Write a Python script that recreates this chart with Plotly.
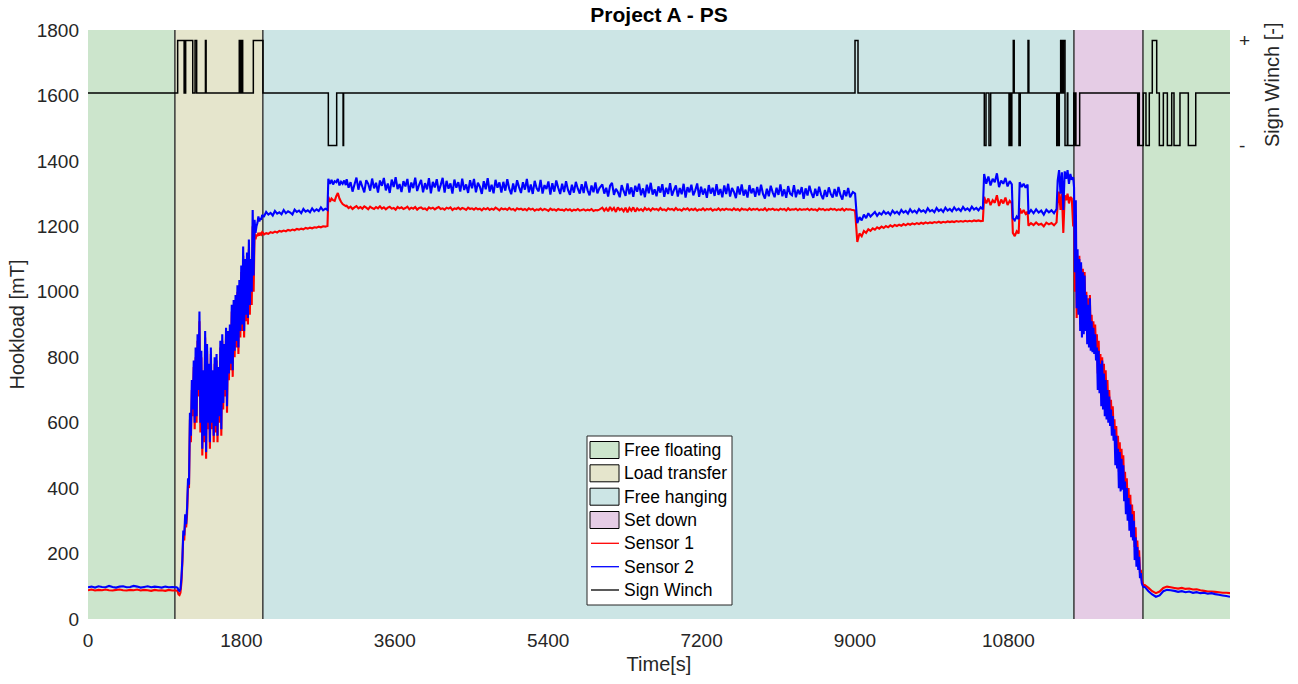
import numpy as np
import plotly.graph_objects as go

# ---------------- data ----------------
phase_names = ["Free floating", "Load transfer", "Free hanging", "Set down", "Free floating"]
phase_start = [-500, 1021, 2053, 11570, 12380]
phase_end = [1021, 2053, 11570, 12380, 14000]
phase_colors = ["rgb(204,229,204)", "rgb(229,229,204)", "rgb(204,229,229)", "rgb(229,204,229)", "rgb(204,229,204)"]

x_ticks = [0, 1800, 3600, 5400, 7200, 9000, 10800]
x_tick_text = ["0", "1800", "3600", "5400", "7200", "9000", "10800"]
y_ticks = [0, 200, 400, 600, 800, 1000, 1200, 1400, 1600, 1800]

# sensor segments: (start s, end s); values sampled evenly over each segment
seg_bounds = [(0, 1030), (1040, 2055), (2065, 2810), (2820, 3025), (3035, 6000),
              (6035, 8965), (8975, 10500), (10515, 10840), (10852, 10920),
              (10932, 11025), (11035, 11365), (11378, 11560), (11570, 12385), (12400, 13400)]

s2_float1 = [97, 99, 96, 100, 98, 97, 101, 98, 96, 99, 100, 97, 98, 101, 99, 96, 98, 100, 97, 99, 98, 96, 99, 97, 98, 97]
s1_float1 = [88, 90, 87, 89, 88, 90, 88, 87, 89, 90, 88, 87, 89, 88, 90, 87, 89, 88, 86, 89, 87, 88, 86, 89, 87, 87]

s2_transfer = [97, 95, 88, 86, 92, 125, 180, 270, 255, 320, 290, 340, 430, 410, 630, 560, 730, 640, 790, 600,
               830, 620, 870, 700, 940, 600, 820, 520, 760, 560, 880, 510, 840, 600, 780, 540, 830,
               600, 760, 560, 800, 590, 810, 560, 770, 620, 850, 580, 870, 660, 840, 700, 890, 650, 880,
               750, 900, 780, 960, 760, 975, 820, 990, 850, 1020, 830, 1036, 880, 1080, 900, 1138, 880, 1100,
               930, 1120, 920, 1160, 960, 1100, 1000, 1250, 1050, 1220, 1180, 1200,
               1210, 1230, 1215, 1225, 1220, 1235, 1230]
s1_transfer = [87, 85, 75, 73, 80, 110, 170, 255, 240, 300, 280, 320, 410, 400, 610, 540, 700, 620, 770, 580,
               800, 600, 850, 680, 910, 570, 800, 500, 740, 540, 860, 490, 820, 580, 760, 520, 810,
               580, 740, 540, 780, 570, 790, 540, 750, 600, 830, 560, 850, 640, 820, 680, 870, 630, 860,
               730, 880, 760, 940, 740, 950, 800, 970, 830, 1000, 810, 1010, 860, 1060, 880, 1110, 860, 1080,
               910, 1100, 900, 1130, 930, 1080, 960, 1200, 1000, 1180, 1160, 1175,
               1170, 1180, 1172, 1178, 1175, 1182, 1180]

s2_hang_a = [1230, 1244, 1236, 1241, 1233, 1247, 1239, 1243, 1237, 1250, 1240, 1246, 1242, 1236, 1251,
             1244, 1248, 1240, 1253, 1245, 1249, 1243, 1255, 1246, 1252, 1247, 1258, 1249, 1254, 1250]
s1_hang_a = [1175, 1179, 1177, 1182, 1180, 1184, 1181, 1186, 1184, 1187, 1185, 1189, 1187, 1190, 1188,
             1192, 1190, 1193, 1191, 1195, 1193, 1196, 1194, 1197, 1196, 1199, 1197, 1200, 1199, 1201]

s2_hang_b = [1345, 1330, 1342, 1328, 1338, 1335, 1345, 1325, 1336, 1330, 1340, 1326]
s1_hang_b = [1290, 1275, 1285, 1280, 1278, 1292, 1302, 1285, 1275, 1268, 1265, 1262]

s2_hang_c = [1344, 1318, 1335, 1306, 1328, 1349, 1312, 1339, 1321, 1304,
             1341, 1330, 1309, 1346, 1316, 1333, 1303, 1340, 1324, 1348,
             1310, 1331, 1302, 1343, 1320, 1350, 1314, 1329, 1305, 1338,
             1322, 1345, 1303, 1334, 1317, 1349, 1308, 1327, 1342, 1304,
             1332, 1313, 1347, 1301, 1336, 1319, 1344, 1307, 1326, 1348,
             1303, 1339, 1315, 1331, 1300, 1343, 1318, 1335, 1306, 1346,
             1311, 1328, 1302, 1341, 1316, 1345, 1304, 1333, 1321, 1299,
             1338, 1313, 1347, 1306, 1327, 1301, 1342, 1318, 1334, 1303,
             1336, 1309, 1344, 1315, 1298, 1331, 1305, 1341, 1320, 1302,
             1335, 1312, 1345, 1304, 1328, 1299, 1339, 1316, 1307, 1342,
             1300, 1326, 1314, 1337, 1297, 1332, 1306, 1340, 1318, 1299,
             1330, 1305, 1338, 1311, 1296, 1327, 1303, 1336, 1315, 1300,
             1329, 1302, 1337, 1310, 1295, 1325, 1304, 1334, 1301, 1316]
s1_hang_c = [1263, 1256, 1260, 1253, 1258, 1262, 1255, 1259, 1254, 1261,
             1257, 1252, 1260, 1256, 1253, 1259, 1255, 1261, 1254, 1258,
             1252, 1257, 1260, 1254, 1256, 1251, 1259, 1255, 1258, 1253,
             1256, 1260, 1252, 1257, 1254, 1259, 1251, 1256, 1258, 1253,
             1255, 1250, 1258, 1254, 1257, 1252, 1256, 1259, 1253, 1255,
             1251, 1257, 1254, 1258, 1250, 1255, 1253, 1257, 1252, 1256,
             1254, 1250, 1257, 1253, 1255, 1251, 1256, 1252, 1254, 1249,
             1255, 1252, 1256, 1250, 1254, 1251, 1257, 1253, 1249, 1255,
             1252, 1254, 1250, 1256, 1251, 1253, 1248, 1255, 1252, 1254,
             1250, 1253, 1249, 1255, 1251, 1254, 1248, 1252, 1250, 1254,
             1249, 1253, 1251, 1247, 1254, 1250, 1252, 1248, 1253, 1250,
             1251, 1248, 1253, 1249, 1252, 1247, 1251, 1249, 1253, 1248,
             1250, 1252, 1248, 1251, 1249, 1253, 1247, 1250, 1249, 1251]

s2_hang_d = [1328, 1300, 1318, 1291, 1324, 1333, 1296, 1315, 1305, 1289,
             1326, 1308, 1293, 1331, 1298, 1319, 1290, 1324, 1306, 1330,
             1295, 1316, 1289, 1327, 1301, 1333, 1297, 1313, 1292, 1322,
             1303, 1329, 1290, 1318, 1299, 1332, 1294, 1311, 1325, 1291,
             1317, 1298, 1330, 1288, 1320, 1304, 1327, 1295, 1310, 1331,
             1290, 1321, 1297, 1315, 1287, 1326, 1300, 1318, 1293, 1329,
             1296, 1314, 1289, 1325, 1299, 1330, 1291, 1317, 1305, 1286,
             1322, 1297, 1328, 1294, 1312, 1288, 1326, 1301, 1316, 1290,
             1320, 1295, 1327, 1299, 1285, 1315, 1292, 1324, 1304, 1289,
             1318, 1296, 1328, 1292, 1313, 1287, 1323, 1300, 1295, 1326,
             1289, 1312, 1298, 1320, 1284, 1316, 1294, 1324, 1302, 1287,
             1315, 1293, 1321, 1297, 1283, 1311, 1290, 1319, 1299, 1288,
             1314, 1291, 1320, 1296, 1282, 1310, 1292, 1317, 1289, 1300]
s1_hang_d = [1257, 1248, 1255, 1246, 1259, 1249, 1256, 1244, 1258, 1250,
             1254, 1246, 1257, 1243, 1256, 1248, 1258, 1245, 1255, 1249,
             1253, 1247, 1256, 1250, 1254, 1248, 1255, 1251, 1253, 1249,
             1256, 1250, 1252, 1248, 1255, 1251, 1253, 1249, 1256, 1250,
             1252, 1248, 1254, 1251, 1255, 1249, 1253, 1250, 1254, 1248,
             1252, 1250, 1255, 1249, 1253, 1251, 1254, 1248, 1252, 1250,
             1255, 1249, 1253, 1250, 1254, 1251, 1252, 1249, 1255, 1250,
             1253, 1248, 1254, 1251, 1252, 1249, 1255, 1250, 1253, 1251,
             1254, 1249, 1252, 1250, 1255, 1248, 1253, 1251, 1254, 1250,
             1252, 1249, 1254, 1251, 1253, 1248, 1255, 1250, 1252, 1251,
             1254, 1249, 1253, 1250, 1252, 1251, 1254, 1249, 1253, 1250,
             1252, 1248, 1254, 1251, 1253, 1249, 1252, 1250, 1254, 1251,
             1253, 1249, 1252, 1250, 1254, 1248, 1253, 1251, 1252, 1250]

s2_hang_e = [1305, 1300, 1210, 1228, 1218, 1236, 1225, 1240, 1230, 1237,
             1244, 1232, 1241, 1236, 1246, 1238, 1243, 1235, 1248, 1240,
             1245, 1237, 1250, 1242, 1247, 1239, 1252, 1243, 1248, 1241,
             1253, 1245, 1249, 1242, 1255, 1246, 1250, 1243, 1256, 1247,
             1252, 1244, 1257, 1248, 1253, 1246, 1258, 1249, 1254, 1247,
             1259, 1250, 1255, 1248, 1260, 1251, 1256, 1249, 1258, 1252]
s1_hang_e = [1250, 1248, 1152, 1178, 1170, 1186, 1180, 1191, 1186, 1194,
             1190, 1197, 1193, 1199, 1195, 1201, 1197, 1203, 1199, 1204,
             1201, 1205, 1202, 1207, 1203, 1208, 1205, 1209, 1206, 1210,
             1207, 1211, 1208, 1212, 1209, 1212, 1210, 1213, 1211, 1214,
             1211, 1214, 1212, 1215, 1213, 1215, 1213, 1216, 1214, 1216,
             1214, 1217, 1215, 1217, 1215, 1218, 1216, 1218, 1216, 1217]

s2_hang_f = [1360, 1330, 1352, 1325, 1345, 1335, 1362, 1320, 1340, 1330, 1348, 1322, 1338, 1328]
s1_hang_f = [1290, 1270, 1285, 1265, 1280, 1272, 1295, 1262, 1282, 1270, 1288, 1265, 1278, 1270]

s2_hang_g = [1225, 1218, 1230, 1222]
s1_hang_g = [1180, 1170, 1185, 1178]

s2_hang_h = [1335, 1320, 1330, 1318, 1328]
s1_hang_h = [1255, 1240, 1250, 1238, 1245]

s2_hang_i = [1238, 1250, 1240, 1252, 1242, 1248, 1236, 1251, 1243, 1249, 1240, 1253]
s1_hang_i = [1202, 1210, 1204, 1212, 1205, 1208, 1200, 1211, 1206, 1210, 1203, 1212]

s2_hang_j = [1340, 1372, 1300, 1365, 1250, 1368, 1345, 1372, 1330, 1360, 1342, 1350]
s1_hang_j = [1270, 1306, 1250, 1300, 1180, 1295, 1280, 1300, 1270, 1290, 1285, 1200]

s2_setdown = [1320, 1060, 1280, 950, 1130, 930, 1100, 880, 1090, 860, 1060, 870,
              1050, 880, 990, 840, 960, 830, 980, 820, 910, 815, 890,
              810, 870, 790, 830, 700, 820, 690, 780, 650, 790,
              640, 750, 620, 730, 610, 700, 600, 680, 590, 640,
              560, 620, 545, 580, 470, 560, 460, 520, 400, 510,
              390, 490, 395, 470, 360, 420, 320, 400, 300, 370,
              270, 350, 250, 320, 240, 300, 180, 250, 160, 220,
              150, 190, 125, 140, 110, 102, 98]
s1_setdown = [1270, 1000, 1180, 920, 1090, 940, 1110, 900, 1080, 890, 1070, 900,
              1060, 900, 1000, 870, 980, 860, 990, 850, 930, 850, 910,
              840, 900, 820, 870, 750, 850, 730, 810, 700, 800,
              690, 780, 660, 760, 650, 730, 640, 700, 620, 670,
              600, 650, 580, 610, 520, 590, 500, 560, 450, 540,
              430, 520, 440, 500, 400, 450, 360, 430, 340, 400,
              310, 380, 290, 350, 270, 330, 220, 280, 190, 240,
              175, 210, 140, 150, 120, 110, 104]

s2_float2 = [98, 85, 75, 68, 72, 85, 89, 88, 86, 83, 85, 82, 84, 80, 82, 79, 80, 77, 79, 76, 74, 72, 70, 68]
s1_float2 = [104, 95, 85, 79, 84, 95, 99, 97, 95, 93, 95, 92, 93, 90, 91, 88, 86, 84, 84, 83, 82, 80, 80, 79]

sensor1_segments = [s1_float1, s1_transfer, s1_hang_a, s1_hang_b, s1_hang_c, s1_hang_d, s1_hang_e,
                    s1_hang_f, s1_hang_g, s1_hang_h, s1_hang_i, s1_hang_j, s1_setdown, s1_float2]
sensor2_segments = [s2_float1, s2_transfer, s2_hang_a, s2_hang_b, s2_hang_c, s2_hang_d, s2_hang_e,
                    s2_hang_f, s2_hang_g, s2_hang_h, s2_hang_i, s2_hang_j, s2_setdown, s2_float2]

# winch sign: change times (s) and level (+1 / 0 / -1)
winch_t = [0, 1052, 1128, 1134, 1140, 1146, 1229, 1256, 1275, 1378, 1386, 1775, 1782, 1788, 1796, 1802, 1815,
           1940, 2053, 2820, 2918, 2993, 2999, 9000, 9035,
           10517, 10537, 10572, 10592, 10807, 10815, 10822, 10830, 10836, 10840, 10857, 10868,
           10924, 10939, 11030, 11040, 11367, 11375, 11382, 11397, 11413, 11425, 11430, 11440, 11446, 11464,
           11491, 11497, 11567, 11575, 11586, 11592, 11636,
           12317, 12330, 12336, 12383, 12414, 12453, 12488, 12540, 12571, 12618, 12665, 12716,
           12743, 12813, 12911, 12998, 13400]
winch_sign = [0, 1, 0, 1, 0, 1, 0, 1, 0, 1, 0, 1, 0, 1, 0, 1, 0,
              1, 0, -1, 0, -1, 0, 1, 0,
              -1, 0, -1, 0, -1, 0, -1, 0, -1, 0, 1, 0,
              -1, 0, 1, 0, -1, 0, -1, 0, 1, 0, 1, 0, 1, -1,
              0, -1, 0, -1, 0, -1, 0,
              -1, 0, -1, 0, -1, 0, 1, 0, -1, 0, -1, 0,
              -1, 0, -1, 0, 0]

legend_labels = ["Free floating", "Load transfer", "Free hanging", "Set down", "Sensor 1", "Sensor 2", "Sign Winch"]


def build(segments):
    xs, ys = [], []
    for (t0, t1), vals in zip(seg_bounds, segments):
        xs.extend(np.linspace(t0, t1, len(vals)).tolist())
        ys.extend(vals)
    return xs, ys


FONT = "Liberation Sans, Arial, Helvetica, sans-serif"
TXT = "#262626"
L, R, T, B = 88, 1230, 30, 619


def px(x):
    return (x - L) / (R - L)


def py(y):
    return (B - y) / (B - T)


fig = go.Figure()

for name, t0, t1, col in zip(phase_names, phase_start, phase_end, phase_colors):
    fig.add_trace(go.Scatter(
        x=[t0, t1, t1, t0, t0], y=[-100, -100, 1900, 1900, -100],
        mode="lines", fill="toself", fillcolor=col,
        line=dict(color="#333333", width=1.2),
        name=name, showlegend=False, hoverinfo="skip"))

x1, y1 = build(sensor1_segments)
x2, y2 = build(sensor2_segments)
fig.add_trace(go.Scatter(x=x1, y=y1, mode="lines", name="Sensor 1", showlegend=False,
                         line=dict(color="#ff0000", width=2.1, simplify=False)))
fig.add_trace(go.Scatter(x=x2, y=y2, mode="lines", name="Sensor 2", showlegend=False,
                         line=dict(color="#0000ff", width=2.1, simplify=False)))
fig.add_trace(go.Scatter(x=winch_t, y=winch_sign, mode="lines", name="Sign Winch", yaxis="y2",
                         showlegend=False, line=dict(color="#000000", width=1.5, shape="hv", simplify=False)))

fig.update_layout(
    width=1298, height=684,
    margin=dict(l=L, r=1298 - R, t=T, b=684 - B),
    paper_bgcolor="white", plot_bgcolor="white",
    font=dict(family=FONT, size=19, color=TXT),
    title=dict(text="<b>Project A - PS</b>", x=0.5, xref="paper", y=1 - 15 / 684, yref="container",
               xanchor="center", yanchor="middle", font=dict(size=21, color="#000000")),
    xaxis=dict(range=[0, 13400], tickvals=x_ticks, ticktext=x_tick_text,
               showgrid=False, zeroline=False, showline=False, ticks="", ticklabelstandoff=8,
               tickfont=dict(size=19, color=TXT),
               title=dict(text="Time[s]", font=dict(size=20, color=TXT), standoff=6)),
    yaxis=dict(range=[0, 1800], tickvals=y_ticks,
               showgrid=False, zeroline=False, showline=False, ticks="", ticklabelstandoff=8,
               tickfont=dict(size=19, color=TXT),
               title=dict(text="Hookload [mT]", font=dict(size=20, color=TXT), standoff=6)),
    yaxis2=dict(overlaying="y", side="right", range=[-10.02, 1.2], tickvals=[1, -1], ticktext=["+", "-"],
                showgrid=False, zeroline=False, showline=False, ticks="", ticklabelstandoff=8,
                tickfont=dict(size=19, color=TXT)),
    showlegend=False,
)

fig.add_annotation(text="Sign Winch [-]", textangle=-90, xref="paper", yref="paper",
                   x=px(1272), y=py(85), xanchor="center", yanchor="middle",
                   showarrow=False, font=dict(size=20, color=TXT))

# legend box (drawn in paper coordinates)
shapes = [dict(type="rect", xref="paper", yref="paper", x0=px(587), x1=px(732), y0=py(605), y1=py(436),
               line=dict(color="#262626", width=1), fillcolor="white", layer="above")]
row_y = [450, 473.3, 496.7, 520, 543.3, 566.7, 590]
swatch_fill = phase_colors[:4]
line_cols = ["#ff0000", "#0000ff", "#000000"]
for i, lab in enumerate(legend_labels):
    yc = row_y[i]
    if i < 4:
        shapes.append(dict(type="rect", xref="paper", yref="paper", x0=px(590), x1=px(619),
                           y0=py(yc + 8.5), y1=py(yc - 8.5), fillcolor=swatch_fill[i],
                           line=dict(color="#000000", width=1), layer="above"))
    else:
        shapes.append(dict(type="line", xref="paper", yref="paper", x0=px(591), x1=px(619),
                           y0=py(yc), y1=py(yc), line=dict(color=line_cols[i - 4], width=1.3), layer="above"))
    fig.add_annotation(text=lab, xref="paper", yref="paper", x=px(622), y=py(yc),
                       xanchor="left", yanchor="middle", showarrow=False,
                       font=dict(size=17.5, color="#000000"))
fig.update_layout(shapes=shapes)

fig.write_html("out.html")
